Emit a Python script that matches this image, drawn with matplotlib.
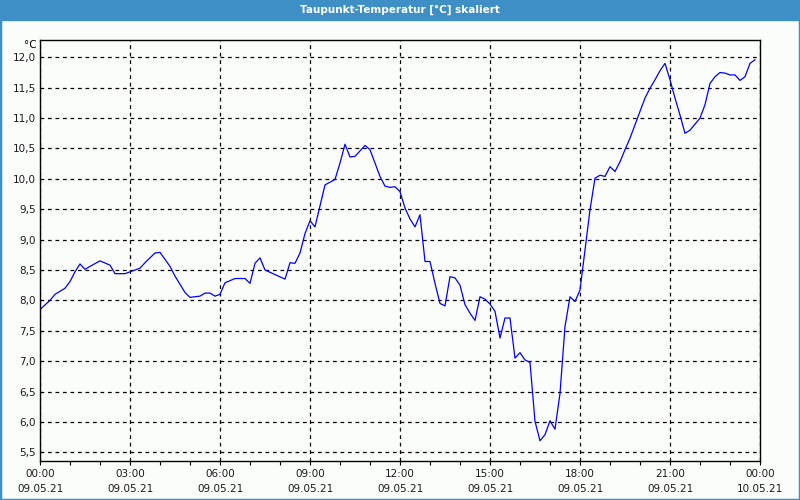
import datetime as dt
import matplotlib
matplotlib.use("Agg")
import matplotlib.pyplot as plt
import matplotlib.dates as mdates
from matplotlib.ticker import FuncFormatter, FixedLocator

# Daten: Minuten nach Mitternacht (09.05.21) und Taupunkt in °C
minutes = [0, 20, 30, 50, 60, 70, 80, 90, 100, 120, 140, 150, 170, 200, 210,
           230, 240, 260, 270, 290, 300, 320, 330, 340, 350, 360, 370, 390,
           410, 420, 430, 440, 450, 490, 500, 510, 520, 530, 540, 550, 570,
           590, 600, 610, 620, 630, 650, 660, 680, 690, 700, 710, 720, 730,
           740, 750, 760, 770, 780, 790, 800, 810, 820, 830, 840, 850, 860,
           870, 880, 890, 900, 910, 920, 930, 940, 950, 960, 970, 980, 990,
           1000, 1010, 1020, 1030, 1040, 1050, 1060, 1070, 1080, 1090, 1100,
           1110, 1120, 1130, 1140, 1150, 1160, 1170, 1180, 1190, 1200, 1210,
           1220, 1230, 1240, 1250, 1260, 1270, 1280, 1290, 1300, 1310, 1320,
           1330, 1340, 1350, 1360, 1370, 1380, 1390, 1400, 1410, 1420, 1430]
taupunkt = [7.85, 8.0, 8.1, 8.2, 8.31, 8.47, 8.6, 8.51, 8.56, 8.65, 8.58,
            8.44, 8.44, 8.53, 8.62, 8.78, 8.79, 8.56, 8.4, 8.13, 8.05, 8.07,
            8.12, 8.12, 8.07, 8.1, 8.29, 8.36, 8.36, 8.28, 8.61, 8.70, 8.5,
            8.35, 8.62, 8.61, 8.78, 9.1, 9.31, 9.21, 9.9, 9.99, 10.26, 10.57,
            10.36, 10.37, 10.55, 10.48, 10.04, 9.88, 9.86, 9.87, 9.79, 9.52,
            9.34, 9.21, 9.41, 8.64, 8.64, 8.28, 7.95, 7.91, 8.39, 8.37, 8.25,
            7.93, 7.79, 7.67, 8.06, 8.02, 7.94, 7.82, 7.38, 7.71, 7.71, 7.05,
            7.14, 7.02, 6.98, 6.01, 5.69, 5.79, 6.02, 5.88, 6.47, 7.57, 8.06,
            7.98, 8.17, 8.83, 9.49, 10.01, 10.06, 10.04, 10.20, 10.12, 10.28,
            10.48, 10.67, 10.89, 11.11, 11.33, 11.49, 11.63, 11.78, 11.90,
            11.63, 11.33, 11.05, 10.75, 10.80, 10.90, 11.0, 11.22, 11.57,
            11.68, 11.75, 11.74, 11.71, 11.71, 11.62, 11.68, 11.90, 11.96]
y_ticks = [5.5, 6.0, 6.5, 7.0, 7.5, 8.0, 8.5, 9.0, 9.5, 10.0, 10.5, 11.0, 11.5, 12.0]

start = dt.datetime(2021, 5, 9)
zeiten = [start + dt.timedelta(minutes=m) for m in minutes]

BLUE_BAR = "#3d8fc6"
BG = "#fbfdfb"

fig = plt.figure(figsize=(8, 5), dpi=100, facecolor=BG)
ax = fig.add_axes([0.05, 0.078, 0.90, 0.842])
ax.set_facecolor(BG)

ax.plot(zeiten, taupunkt, color="#0000ff", lw=0.9)

ax.set_xlim(start, start + dt.timedelta(hours=24))
ax.set_ylim(5.357, 12.285)

# Achsen
ax.xaxis.set_major_locator(mdates.HourLocator(byhour=range(0, 24, 3)))
ax.xaxis.set_minor_locator(mdates.HourLocator())
ax.xaxis.set_major_formatter(mdates.DateFormatter("%H:%M\n%d.%m.%y"))
ax.yaxis.set_major_locator(FixedLocator(y_ticks))
ax.yaxis.set_major_formatter(FuncFormatter(lambda v, p: f"{v:.1f}".replace(".", ",")))

ax.tick_params(axis="x", which="both", length=3, width=0.8, direction="out",
               labelsize=7.5, pad=3, colors="black")
ax.tick_params(axis="x", which="major", labelcolor="#1a1a1a")
ax.tick_params(axis="y", length=0, labelsize=7.5, pad=3, labelcolor="#1a1a1a")
fig.canvas.draw()
for lbl in ax.get_xticklabels():
    lbl.set_linespacing(1.55)

ax.grid(True, which="major", color="black", ls=(0, (3, 3)), lw=0.9)
for s in ax.spines.values():
    s.set_linewidth(1.0)
    s.set_color("black")

ax.text(-0.004, 1.0, "°C", transform=ax.transAxes, ha="right", va="top", fontsize=7.5)

# Titelleiste
fig.patches.append(plt.Rectangle((0, 0.96), 1, 0.04, transform=fig.transFigure,
                                 color=BLUE_BAR, zorder=0))
fig.text(0.5, 0.98, "Taupunkt-Temperatur [°C] skaliert", ha="center", va="center",
         color="white", fontsize=7.5, fontweight="bold")
# Rahmen
fig.patches.append(plt.Rectangle((0, 0), 1, 1, transform=fig.transFigure,
                                 fill=False, edgecolor=BLUE_BAR, lw=2.5, zorder=5))

fig.savefig("out.png", dpi=100, facecolor=BG)
